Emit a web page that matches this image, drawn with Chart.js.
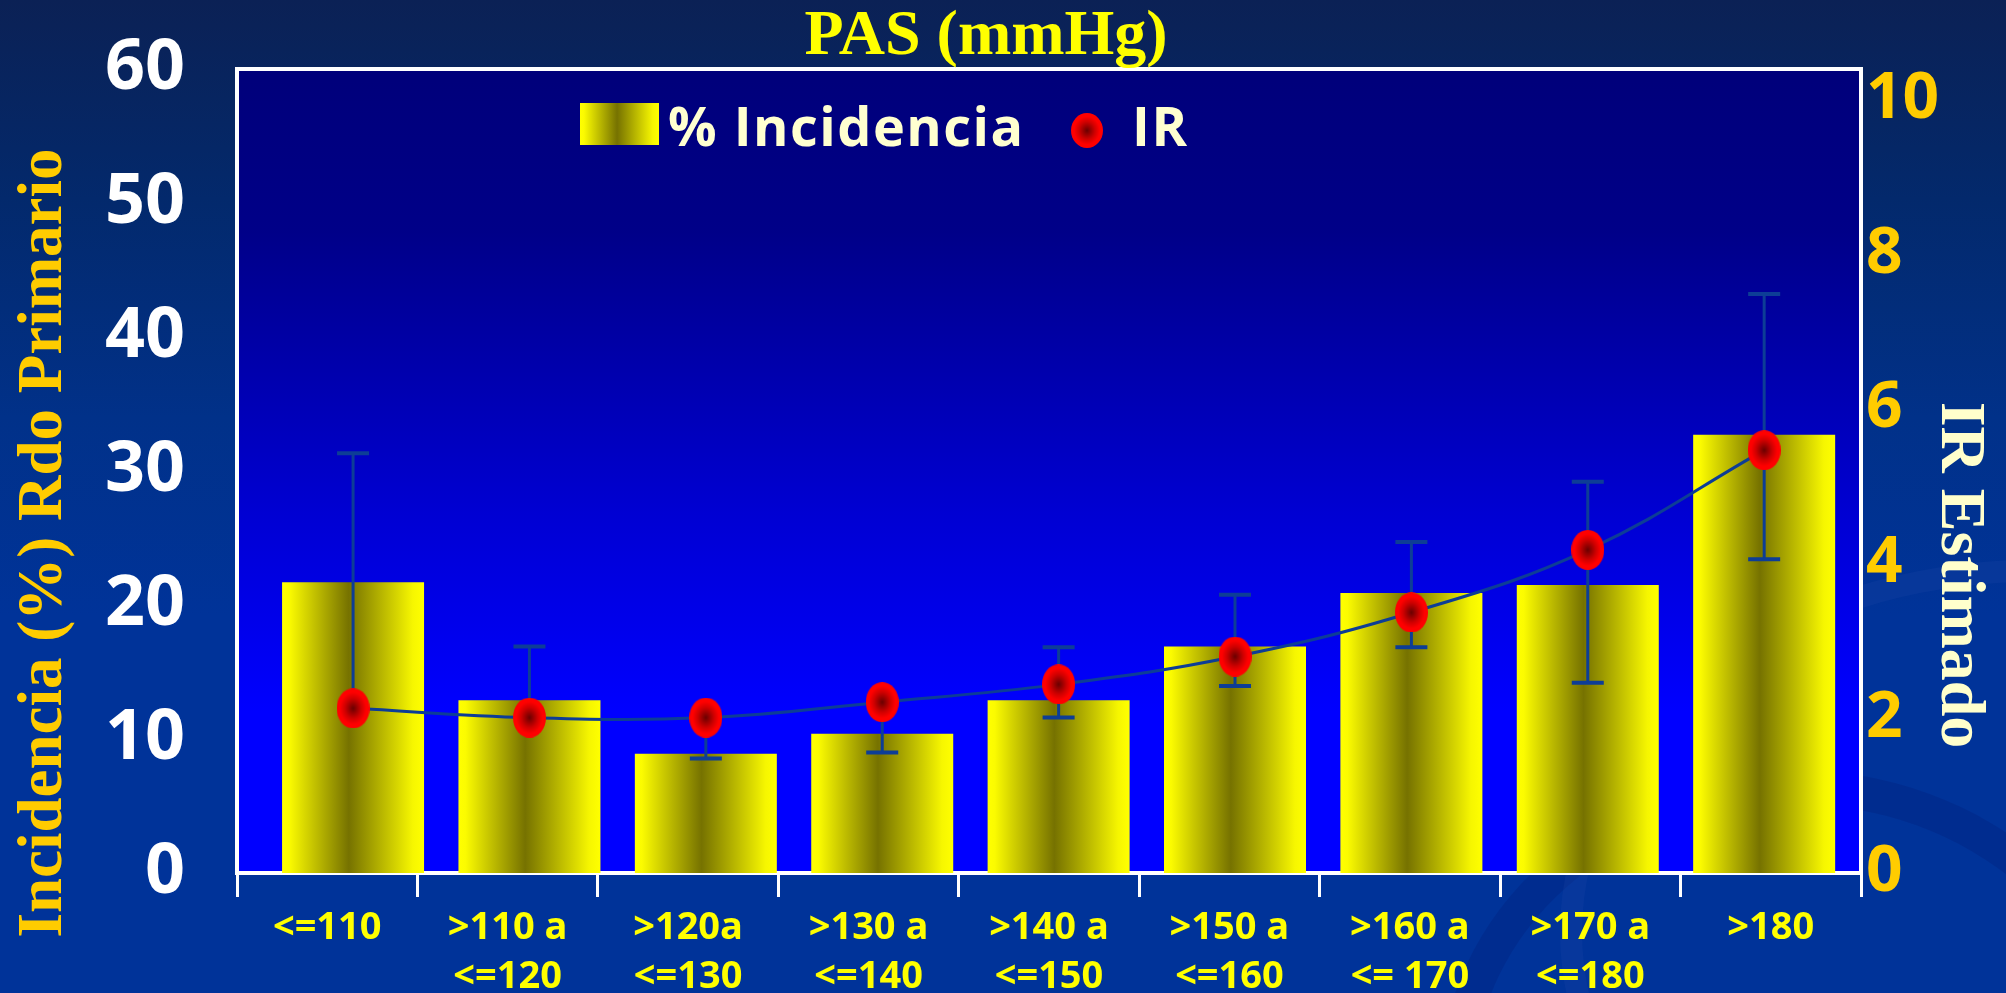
<!DOCTYPE html>
<html lang="es">
<head>
<meta charset="utf-8">
<title>PAS (mmHg)</title>
<script src="https://cdn.jsdelivr.net/npm/chart.js@4.4.1/dist/chart.umd.min.js"></script>
<style>
    html, body { margin: 0; padding: 0; }
    body {
        position: relative;
        width: 2006px;
        height: 993px;
        overflow: hidden;
        background: linear-gradient(to bottom, #0b2155 0%, #03296c 20%, #013189 42%, #003399 62%, #003399 100%);
    }
    .swoosh {
        position: absolute;
        border-radius: 50%;
        border: 34px solid rgba(0, 28, 120, 0.28);
    }
    canvas { position: relative; display: block; }
</style>
</head>
<body>
<div class="swoosh" style="left:1440px; top:770px; width:640px; height:560px;"></div>
<div class="swoosh" style="left:1560px; top:560px; width:900px; height:700px; border-width:22px; border-color: rgba(40, 80, 170, 0.18);"></div>
<canvas id="pasChart" width="2006" height="993"></canvas>
<script>
// DATA --------------------------------------------------------------------------
const categories = [['<=110'], ['>110 a', '<=120'], ['>120a', '<=130'], ['>130 a', '<=140'],
    ['>140 a', '<=150'], ['>150 a', '<=160'], ['>160 a', '<= 170'], ['>170 a', '<=180'], ['>180']];
const incidencia = [21.7, 12.9, 8.9, 10.4, 12.9, 16.9, 20.9, 21.5, 32.7];   // % Rdo Primario
const irEstimado = [2.13, 2.01, 2.01, 2.21, 2.44, 2.80, 3.37, 4.18, 5.47];
const irUpper = [5.43, 2.93, null, null, 2.92, 3.60, 4.28, 5.06, 7.49];
const irLower = [null, null, 1.48, 1.56, 2.01, 2.42, 2.92, 2.46, 4.06];
const leftTicks = [0, 10, 20, 30, 40, 50, 60];
const rightTicks = [0, 2, 4, 6, 8, 10];

const barShare = 0.805;
const sansFont = '"Open Sans", "Noto Sans", sans-serif';
const serifFont = '"Liberation Serif", "DejaVu Serif", serif';

// red marker used for IR points (and legend)
function makeMarker(w, h) {
    const c = document.createElement('canvas');
    c.width = w;
    c.height = h;
    const g = c.getContext('2d');
    g.save();
    g.translate(w / 2, h / 2);
    g.scale(1, h / w);
    const rg = g.createRadialGradient(0, 0, 0, 0, 0, w / 2);
    rg.addColorStop(0, '#6a0000');
    rg.addColorStop(0.5, '#d00000');
    rg.addColorStop(0.8, '#ff0000');
    rg.addColorStop(1, '#ff0000');
    g.fillStyle = rg;
    g.beginPath();
    g.arc(0, 0, w / 2, 0, Math.PI * 2);
    g.fill();
    g.restore();
    return c;
}
const irMarker = makeMarker(33, 40);
const legendMarker = makeMarker(32, 35);

function yellowStops(g) {
    g.addColorStop(0, '#ffff00');
    g.addColorStop(0.05, '#fbfb00');
    g.addColorStop(0.47, '#767200');
    g.addColorStop(0.92, '#f6f600');
    g.addColorStop(1, '#ffff00');
    return g;
}

// bar fill: yellow - olive - yellow across each bar
function barGradient(context) {
    const chart = context.chart;
    const xs = chart.scales.xd;
    if (context.type !== 'data' || !xs) return '#ffff00';
    const step = xs.getPixelForValue(1) - xs.getPixelForValue(0);
    const cx = xs.getPixelForValue(context.dataIndex);
    if (!isFinite(cx) || !isFinite(step)) return '#ffff00';
    const half = step * barShare / 2;
    return yellowStops(chart.ctx.createLinearGradient(cx - half, 0, cx + half, 0));
}

// PLOT FRAME, ERROR BARS, TITLES, LEGEND ---------------------------------------
const decorations = {
    id: 'decorations',
    beforeDraw(chart) {
        const { ctx, chartArea: a } = chart;
        const g = ctx.createLinearGradient(0, a.top, 0, a.bottom);
        g.addColorStop(0, '#00007a');
        g.addColorStop(0.2, '#000088');
        g.addColorStop(0.55, '#0000d2');
        g.addColorStop(0.8, '#0000ff');
        g.addColorStop(1, '#0000ff');
        ctx.save();
        ctx.fillStyle = g;
        ctx.fillRect(a.left, a.top, a.right - a.left, a.bottom - a.top);
        ctx.strokeStyle = '#ffffff';
        ctx.lineWidth = 4;
        ctx.beginPath();
        ctx.moveTo(a.left - 2, a.top);
        ctx.lineTo(a.right + 2, a.top);
        ctx.stroke();
        ctx.restore();
    },
    beforeDatasetDraw(chart, args) {
        if (args.index !== 1) return;
        const { ctx } = chart;
        const xs = chart.scales.xd;
        const ys = chart.scales.y1;
        ctx.save();
        ctx.strokeStyle = '#0d3d96';
        irEstimado.forEach((v, i) => {
            const x = xs.getPixelForValue(i);
            const y = ys.getPixelForValue(v);
            [irUpper[i], irLower[i]].forEach(end => {
                if (end === null) return;
                const ye = ys.getPixelForValue(end);
                ctx.lineWidth = 3;
                ctx.beginPath();
                ctx.moveTo(x, y);
                ctx.lineTo(x, ye);
                ctx.stroke();
                ctx.lineWidth = 4;
                ctx.beginPath();
                ctx.moveTo(x - 16, ye);
                ctx.lineTo(x + 16, ye);
                ctx.stroke();
            });
        });
        ctx.restore();
    },
    afterDraw(chart) {
        const { ctx, chartArea: a } = chart;
        ctx.save();
        // top title
        ctx.font = 'bold 64px ' + serifFont;
        ctx.fillStyle = '#ffff00';
        ctx.textAlign = 'center';
        ctx.textBaseline = 'alphabetic';
        ctx.fillText('PAS (mmHg)', 986, 54);

        // left axis title
        ctx.save();
        ctx.font = 'bold 63px ' + serifFont;
        ctx.fillStyle = '#ffcc00';
        ctx.translate(61, 543);
        ctx.rotate(-Math.PI / 2);
        ctx.fillText('Incidencia (%) Rdo Primario', 0, 0);
        ctx.restore();

        // right axis title
        ctx.save();
        ctx.font = 'bold 64px ' + serifFont;
        ctx.fillStyle = '#ffffcc';
        ctx.translate(1942, 575);
        ctx.rotate(Math.PI / 2);
        ctx.fillText('IR Estimado', 0, 0);
        ctx.restore();

        // legend
        const lx = a.left + 343;
        const ly = a.top + 34;
        ctx.fillStyle = yellowStops(ctx.createLinearGradient(lx, 0, lx + 79, 0));
        ctx.fillRect(lx, ly, 79, 42);
        ctx.font = 'bold 54px ' + sansFont;
        ctx.letterSpacing = '1.5px';
        ctx.fillStyle = '#ffffd0';
        ctx.textAlign = 'left';
        ctx.fillText('% Incidencia', lx + 88, ly + 43);
        ctx.drawImage(legendMarker, lx + 491, ly + 10);
        ctx.fillText('IR', lx + 552, ly + 43);
        ctx.restore();
    }
};

// CHART -------------------------------------------------------------------------
const ctx = document.getElementById('pasChart').getContext('2d');

new Chart(ctx, {
    type: 'bar',
    data: {
        labels: categories,
        datasets: [{
            type: 'bar',
            label: '% Incidencia',
            data: incidencia.map((v, i) => ({ x: i, y: v })),
            xAxisID: 'xd',
            yAxisID: 'y',
            backgroundColor: barGradient,
            borderWidth: 0,
            barPercentage: barShare,
            categoryPercentage: 1,
            order: 2
        }, {
            type: 'line',
            label: 'IR',
            data: irEstimado.map((v, i) => ({ x: i, y: v })),
            xAxisID: 'xd',
            yAxisID: 'y1',
            borderColor: '#0d3d96',
            borderWidth: 3,
            tension: 0.4,
            pointStyle: irMarker,
            pointRadius: 20,
            clip: false,
            order: 1
        }]
    },
    options: {
        responsive: false,
        animation: false,
        devicePixelRatio: 1,
        events: [],
        layout: { padding: { top: 69, left: 0, right: 0, bottom: 0 } },
        plugins: {
            legend: { display: false },
            tooltip: { enabled: false },
            title: { display: false }
        },
        scales: {
            x: {
                type: 'category',
                position: 'bottom',
                labels: categories,
                offset: true,
                grid: {
                    display: true,
                    offset: true,
                    drawOnChartArea: false,
                    color: '#ffffff',
                    lineWidth: 3,
                    tickLength: 24
                },
                border: { color: '#ffffff', width: 4 },
                ticks: {
                    color: '#ffff00',
                    font: { family: sansFont, weight: 'bold', size: 38, lineHeight: 1.29 },
                    padding: 7,
                    maxRotation: 0,
                    autoSkip: false
                },
                afterFit: s => { s.height = 120; }
            },
            xd: {
                type: 'linear',
                axis: 'x',
                position: 'bottom',
                display: false,
                offset: false,
                min: -0.658,
                max: 8.549,
                afterBuildTicks: s => { s.ticks = incidencia.map((v, i) => ({ value: i })); }
            },
            y: {
                type: 'linear',
                position: 'left',
                min: 0,
                max: 60,
                afterBuildTicks: s => { s.ticks = leftTicks.map(v => ({ value: v })); },
                grid: { display: false, drawTicks: true, tickLength: 52 },
                border: { color: '#ffffff', width: 4 },
                ticks: {
                    color: '#ffffff',
                    font: { family: sansFont, weight: 'bold', size: 70 },
                    padding: 0
                },
                afterFit: s => { s.width = 237; }
            },
            y1: {
                type: 'linear',
                position: 'right',
                min: 0,
                max: 10.4,
                afterBuildTicks: s => { s.ticks = rightTicks.map(v => ({ value: v })); },
                grid: { display: false, drawTicks: true, tickLength: 5 },
                border: { color: '#ffffff', width: 4 },
                ticks: {
                    color: '#ffcc00',
                    font: { family: sansFont, weight: 'bold', size: 64 },
                    padding: 0
                },
                afterFit: s => { s.width = 145; }
            }
        }
    },
    plugins: [decorations]
});
</script>
</body>
</html>
